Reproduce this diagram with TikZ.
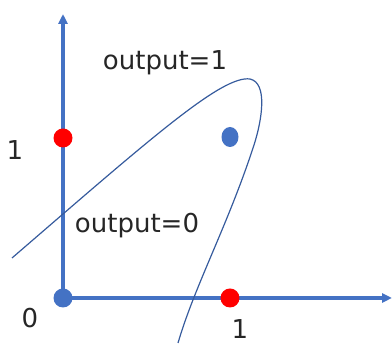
\documentclass[tikz,border=0pt]{standalone}
\usepackage{fontspec}
\setmainfont{DejaVu Sans}
\usepackage{xcolor}
\usetikzlibrary{arrows.meta,shapes.geometric}
\definecolor{axisblue}{RGB}{68,114,196}
\definecolor{dotred}{RGB}{255,0,0}

\begin{document}
\begin{tikzpicture}[
    x=1pt, y=1pt,
    axis/.style={draw=axisblue, line width=3.2pt, -{Triangle[length=10pt, width=9pt]}},
    dot/.style={circle, inner sep=0pt, minimum size=19pt},
    lbl/.style={font=\fontsize{26}{30}\selectfont, text=black!85, inner sep=0pt},
    boundary/.style={draw=axisblue!80!black, line width=1.2pt}
]
\useasboundingbox (0,0) rectangle (392,345);

% Axes
\coordinate (origin) at (63,47);
\coordinate (xend) at (392,47);
\coordinate (yend) at (63,331);
\draw[axis] (origin) -- (xend);
\draw[axis] (origin) -- (yend);

% Points
\node[dot, fill=axisblue] (p00) at (63,47) {};
\node[dot, fill=dotred] (p10) at (230,47) {};
\node[dot, fill=dotred] (p01) at (63,207) {};
\node[ellipse, inner sep=0pt, fill=axisblue, minimum width=17pt, minimum height=20pt] (p11) at (230,208) {};

% Decision boundary
\coordinate (bstart) at (12,87);
\coordinate (btip) at (250,266);
\coordinate (bend) at (178,2);
\draw[boundary] (bstart) .. controls (150,206) and (222,270) .. (btip)
    .. controls (268,262) and (262,225) .. (254,200)
    .. controls (228,120) and (195,60) .. (bend);

% Labels
\node[lbl] (out1) at (165,282) {output=1};
\node[lbl] (out0) at (137,119) {output=0};
\node[lbl] (ylab) at (15,195) {1};
\node[lbl] (olab) at (30,27) {0};
\node[lbl] (xlab) at (240,16) {1};

\end{tikzpicture}
\end{document}
